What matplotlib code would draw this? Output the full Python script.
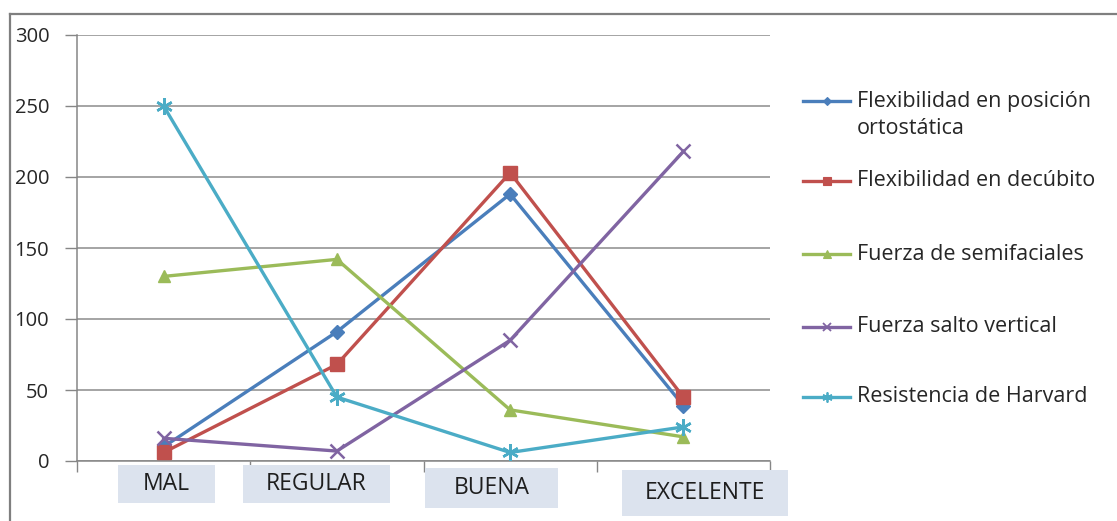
import matplotlib
matplotlib.use("Agg")
import matplotlib.pyplot as plt
from matplotlib.patches import Rectangle
from matplotlib.lines import Line2D

# ---- data ----
categories = ["MAL", "REGULAR", "BUENA", "EXCELENTE"]
flex_ortostatica = [10, 91, 188, 39]
flex_decubito = [6, 68, 203, 45]
fuerza_semifaciales = [130, 142, 36, 17]
fuerza_salto = [16, 7, 85, 218]
resistencia_harvard = [250, 45, 6, 24]

series_names = [
    "Flexibilidad en posición\nortostática",
    "Flexibilidad en decúbito",
    "Fuerza de semifaciales",
    "Fuerza salto vertical",
    "Resistencia de Harvard",
]
series_values = [flex_ortostatica, flex_decubito, fuerza_semifaciales,
                 fuerza_salto, resistencia_harvard]
y_ticks = [0, 50, 100, 150, 200, 250, 300]

# ---- style ----
colors = ["#4A7EBB", "#C0504D", "#9BBB59", "#8064A2", "#4BACC6"]
markers = ["D", "s", "^", "x", (6, 2, 0)]
msizes = [7, 10, 9, 10, 12]
FONT = ["Open Sans", "DejaVu Sans"]
plt.rcParams["font.family"] = FONT
TEXT_COLOR = "#262626"

W, H = 1117, 521
fig = plt.figure(figsize=(W / 100, H / 100), dpi=100)
fig.patch.set_facecolor("white")


def fx(px):
    return px / W


def fy(py):
    return 1 - py / H


ax = fig.add_axes([fx(77), fy(461), fx(770) - fx(77), fy(35) - fy(461)])
ax.set_xlim(-0.5, len(categories) - 0.5)
ax.set_ylim(0, 300)
ax.set_yticks(y_ticks)
ax.set_yticklabels([str(v) for v in y_ticks], fontsize=14.5, color=TEXT_COLOR)
ax.tick_params(axis="y", length=9, width=1, color="#868686", pad=11)
ax.set_xticks([i - 0.5 for i in range(len(categories) + 1)])
ax.set_xticklabels([])
ax.tick_params(axis="x", length=8, width=1, color="#868686", direction="out")
ax.grid(axis="y", color="#8c8c8c", linewidth=1.1)
ax.set_axisbelow(True)
for side in ["top", "right"]:
    ax.spines[side].set_visible(False)
for side in ["left", "bottom"]:
    ax.spines[side].set_color("#868686")
    ax.spines[side].set_linewidth(1.1)

xs = list(range(len(categories)))
for vals, c, m, ms in zip(series_values, colors, markers, msizes):
    mew = 1.8 if m in ("x", (6, 2, 0)) else 1
    ax.plot(xs, vals, color=c, linewidth=2.4, marker=m, markersize=ms,
            markeredgewidth=mew, markeredgecolor=c, markerfacecolor=c,
            clip_on=False, zorder=3)

# category labels in shaded boxes below the axis
label_boxes = [(118, 465, 97, 38), (243, 465, 147, 38),
               (425, 468, 133, 40), (622, 470, 166, 46)]
for lab, (bx, by, bw, bh) in zip(categories, label_boxes):
    fig.patches.append(Rectangle((fx(bx), fy(by + bh)), fx(bw), bh / H,
                                 transform=fig.transFigure,
                                 facecolor="#DCE3EE", edgecolor="none",
                                 zorder=0))
    fig.text(fx(bx + bw / 2), fy(by + bh / 2), lab, ha="center", va="center",
             fontsize=16.5, color="#1e1e1e")

# legend on the right: key line aligned with the first line of each label
legend_rows = [101, 181, 254, 327, 397]
line_gap = 28
key_x0, key_x1, text_x = 803, 850, 857
for name, c, m, ms, ry in zip(series_names, colors, markers, msizes, legend_rows):
    mew = 1.3 if m in ("x", (6, 2, 0)) else 0.8
    fig.add_artist(Line2D([fx(key_x0), fx(key_x1)], [fy(ry), fy(ry)],
                          color=c, linewidth=2.4,
                          transform=fig.transFigure))
    fig.add_artist(Line2D([fx((key_x0 + key_x1) / 2)], [fy(ry)],
                          color=c, marker=m, markersize=ms * 0.6,
                          markeredgewidth=mew, markeredgecolor=c,
                          markerfacecolor=c, linestyle="none",
                          transform=fig.transFigure))
    for k, part in enumerate(name.split("\n")):
        fig.text(fx(text_x), fy(ry + k * line_gap), part, ha="left",
                 va="center", fontsize=15.5, color=TEXT_COLOR)

# outer frame (top and left edges)
fig.add_artist(Line2D([fx(10), 1], [fy(14), fy(14)], color="#7f7f7f",
                      linewidth=1.6, transform=fig.transFigure))
fig.add_artist(Line2D([fx(10), fx(10)], [fy(14), 0], color="#7f7f7f",
                      linewidth=1.6, transform=fig.transFigure))

fig.savefig("out.png", dpi=100, facecolor="white")
